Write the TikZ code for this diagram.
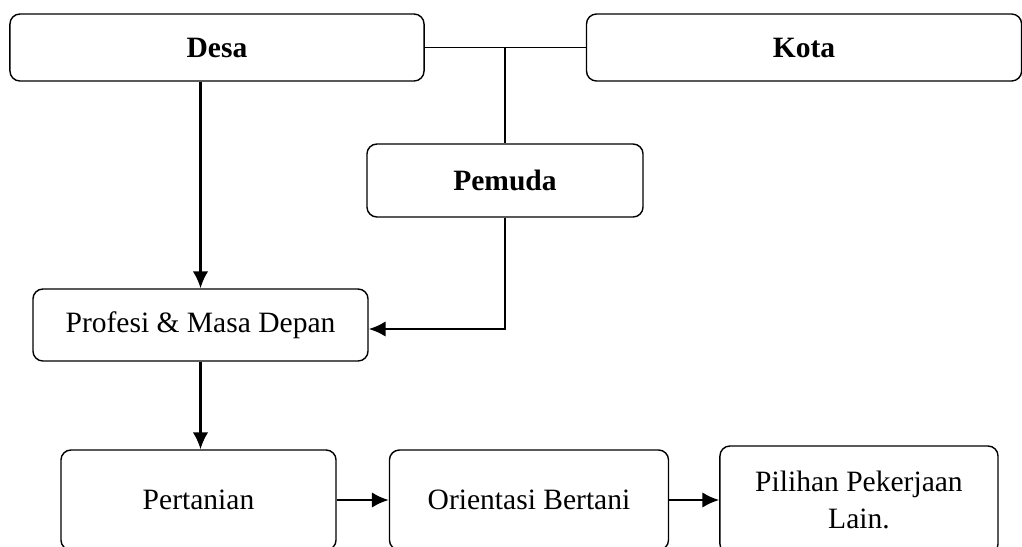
\documentclass[tikz,border=0pt]{standalone}
\usepackage{fontspec}
\setmainfont{Liberation Serif}
\usetikzlibrary{positioning,arrows.meta}
\tikzset{
    box/.style={rectangle,rounded corners=0.25cm,draw=black,line width=1pt,text centered,align=center,font=\fontsize{21}{26}\selectfont},
    headbox/.style={box,font=\fontsize{21}{26}\selectfont\bfseries},
    link/.style={draw=black,line width=0.9pt},
    flow/.style={draw=black,line width=1.7pt,->},
}

\begin{document}
\begin{tikzpicture}[>={Latex[length=12pt,width=11pt]},x=0.025cm,y=-0.025cm]
\useasboundingbox (0,0) rectangle (1022,547);
\node[headbox,minimum width=10.35cm,minimum height=1.675cm] (Desa) at (217,47.5) {Desa};
\node[headbox,minimum width=10.875cm,minimum height=1.675cm] (Kota) [right=4.025cm of Desa] {Kota};
\node[headbox,minimum width=6.9cm,minimum height=1.825cm] (Pemuda) at (505,180.5) {Pemuda};
\node[box,minimum width=8.375cm,minimum height=1.8cm] (Profesi) at (200.5,325) {Profesi \& Masa Depan};
\node[box,minimum width=6.875cm,minimum height=2.5cm] (Pertanian) at (198.5,500) {Pertanian};
\node[box,minimum width=6.975cm,minimum height=2.5cm] (Orientasi) [right=1.3cm of Pertanian] {Orientasi Bertani};
\node[box,minimum width=6.95cm,minimum height=2.7cm] (Pilihan) [right=1.25cm of Orientasi] {Pilihan Pekerjaan\\Lain.};
\draw[link] (Desa.east) -- (Kota.west);
\coordinate (split) at (Desa.east -| Pemuda.north);
\draw[link] (split) -- (Pemuda.north);
\draw[flow] (Pemuda.south) |- ([yshift=-0.1cm]Profesi.east);
\draw[flow] (Desa.south -| Profesi.north) -- (Profesi.north);
\draw[flow] (Profesi.south) -- (Profesi.south |- Pertanian.north);
\draw[flow] (Pertanian.east) -- (Orientasi.west);
\draw[flow] (Orientasi.east) -- (Pilihan.west);
\end{tikzpicture}
\end{document}
